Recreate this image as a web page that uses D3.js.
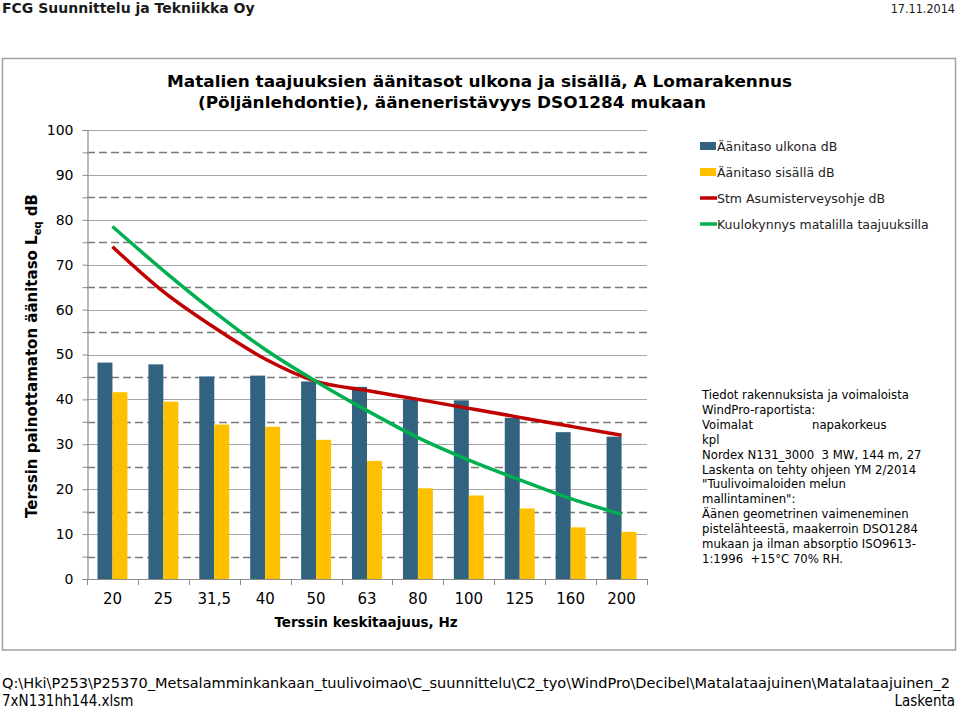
<!DOCTYPE html>
<html>
<head>
<meta charset="utf-8">
<script src="https://cdn.jsdelivr.net/npm/d3@7"></script>
<style>
  html, body { margin: 0; padding: 0; background: #fff; }
  svg { display: block; }
  text { font-family: "DejaVu Sans", Verdana, sans-serif; fill: #000; white-space: pre; }
</style>
</head>
<body>
<svg id="chart" width="959" height="709"></svg>
<script>
// ---------- DATA ----------
const categories = ["20", "25", "31,5", "40", "50", "63", "80", "100", "125", "160", "200"];
const outdoorLevels = [48.2, 47.8, 45.1, 45.3, 44.0, 42.8, 40.0, 39.8, 35.9, 32.7, 31.7];
const indoorLevels  = [41.6, 39.5, 34.4, 33.9, 31.0, 26.3, 20.2, 18.6, 15.7, 11.5, 10.5];
const guidelineLevels = [74, 64, 56, 49, 44, 42, 40, 38, 36, 34, 32];
const hearingThreshold = [78.5, 68.7, 59.5, 51.1, 44.0, 37.5, 31.5, 26.5, 22.1, 17.9, 14.4];
const barSeries = ["Äänitaso ulkona dB", "Äänitaso sisällä dB"];
const lineSeries = ["Stm Asumisterveysohje dB", "Kuulokynnys matalilla taajuuksilla"];
const yTickValues = [0, 10, 20, 30, 40, 50, 60, 70, 80, 90, 100];
const titleLines = ["Matalien taajuuksien äänitasot ulkona ja sisällä, A Lomarakennus",
                    "(Pöljänlehdontie), ääneneristävyys DSO1284 mukaan"];
const noteLines = [
  "Tiedot rakennuksista ja voimaloista",
  "WindPro-raportista:",
  "Voimalat|napakorkeus",
  "kpl",
  "Nordex N131_3000  3 MW, 144 m, 27",
  "Laskenta on tehty ohjeen YM 2/2014",
  "\"Tuulivoimaloiden melun",
  "mallintaminen\":",
  "Äänen geometrinen vaimeneminen",
  "pistelähteestä, maakerroin DSO1284",
  "mukaan ja ilman absorptio ISO9613-",
  "1:1996  +15°C 70% RH."
];
const footerLines = [
  "Q:\\Hki\\P253\\P25370_Metsalamminkankaan_tuulivoimao\\C_suunnittelu\\C2_tyo\\WindPro\\Decibel\\Matalataajuinen\\Matalataajuinen_2",
  "7xN131hh144.xlsm"
];

// ---------- STYLE ----------
const colors = { outdoor: "#31627f", indoor: "#ffc000", guideline: "#c00000", threshold: "#00b050" };
const svg = d3.select("#chart");
const plot = { left: 87, right: 647, top: 130, bottom: 579 };
const condensed = "'DejaVu Sans Condensed', 'DejaVu Sans', sans-serif";

// header
svg.append("text").attr("x", 2).attr("y", 13)
  .style("font-weight", "bold").style("font-size", "14px").style("fill", "#1a1a1a")
  .text("FCG Suunnittelu ja Tekniikka Oy");
svg.append("text").attr("x", 955).attr("y", 13).attr("text-anchor", "end")
  .style("font-family", condensed)
  .style("font-size", "12.5px").style("fill", "#1a1a1a")
  .text("17.11.2014");

// chart box
svg.append("rect").attr("x", 2.5).attr("y", 58.5).attr("width", 953).attr("height", 591.5)
  .attr("fill", "none").attr("stroke", "#a0a0a0").attr("stroke-width", 1.5);

// scales
const x = d3.scaleBand().domain(categories).range([plot.left, plot.right]).paddingInner(0).paddingOuter(0);
const xs = d3.scaleBand().domain(barSeries).range([0, x.bandwidth()]).paddingInner(0).paddingOuter(0.7);
const y = d3.scaleLinear().domain([0, 100]).range([plot.bottom, plot.top]);

// gridlines
const g = svg.append("g");
g.selectAll("line.major").data(yTickValues.filter(v => v > 0)).join("line")
  .attr("x1", plot.left).attr("x2", plot.right)
  .attr("y1", d => Math.round(y(d)) + 0.5).attr("y2", d => Math.round(y(d)) + 0.5)
  .attr("stroke", "#a6a6a6").attr("stroke-width", 1.2);
g.selectAll("line.minor").data(d3.range(5, 100, 10)).join("line")
  .attr("x1", plot.left).attr("x2", plot.right)
  .attr("y1", d => Math.round(y(d)) + 0.5).attr("y2", d => Math.round(y(d)) + 0.5)
  .attr("stroke", "#7a7a7a").attr("stroke-width", 1.4).attr("stroke-dasharray", "8,4");

// bars
const barData = [outdoorLevels, indoorLevels];
const barColors = [colors.outdoor, colors.indoor];
barSeries.forEach((s, si) => {
  svg.append("g").selectAll("rect").data(categories).join("rect")
    .attr("x", (c) => x(c) + xs(s))
    .attr("width", xs.bandwidth())
    .attr("y", (c, i) => y(barData[si][i]))
    .attr("height", (c, i) => y(0) - y(barData[si][i]))
    .attr("fill", barColors[si]);
});

// axes
const yAxis = d3.axisLeft(y).tickValues(yTickValues).tickSize(5).tickPadding(9);
const ya = svg.append("g").attr("transform", `translate(${plot.left + 0.5},0)`).call(yAxis);
ya.select(".domain").attr("stroke", "#8c8c8c").attr("stroke-width", 1.2);
ya.selectAll(".tick line").attr("stroke", "#8c8c8c");
ya.selectAll(".tick text").style("font-size", "14px").style("font-family", "'DejaVu Sans', sans-serif").attr("fill", "#000");
const yMinor = d3.axisLeft(y).tickValues(d3.range(5, 100, 10)).tickSize(5).tickFormat("");
const ym = svg.append("g").attr("transform", `translate(${plot.left + 0.5},0)`).call(yMinor);
ym.select(".domain").remove();
ym.selectAll(".tick line").attr("stroke", "#8c8c8c");

const xAxis = d3.axisBottom(x).tickSize(0).tickPadding(14);
const xa = svg.append("g").attr("transform", `translate(0,${plot.bottom + 0.5})`).call(xAxis);
xa.select(".domain").attr("stroke", "#8c8c8c").attr("stroke-width", 1.2).attr("d", `M${plot.left},0H${plot.right}`);
xa.selectAll(".tick text").style("font-size", "15px").style("font-family", "'DejaVu Sans', sans-serif").attr("fill", "#000");
// boundary ticks
svg.append("g").selectAll("line").data(categories.concat(["end"])).join("line")
  .attr("x1", (c, i) => Math.round(i < categories.length ? x(c) : plot.right) + 0.5)
  .attr("x2", (c, i) => Math.round(i < categories.length ? x(c) : plot.right) + 0.5)
  .attr("y1", plot.bottom).attr("y2", plot.bottom + 6)
  .attr("stroke", "#8c8c8c");

// lines
const lineGen = d3.line()
  .x((d, i) => x(categories[i]) + x.bandwidth() / 2)
  .y(d => y(d))
  .curve(d3.curveMonotoneX);
svg.append("path").datum(guidelineLevels).attr("d", lineGen)
  .attr("fill", "none").attr("stroke", colors.guideline).attr("stroke-width", 3.5);
svg.append("path").datum(hearingThreshold).attr("d", lineGen)
  .attr("fill", "none").attr("stroke", colors.threshold).attr("stroke-width", 3.5);

// title
svg.append("text").attr("x", 167).attr("y", 87)
  .style("font-weight", "bold").style("font-size", "15.5px")
  .attr("textLength", 625).attr("lengthAdjust", "spacingAndGlyphs")
  .text(titleLines[0]);
svg.append("text").attr("x", 198).attr("y", 108)
  .style("font-weight", "bold").style("font-size", "15.5px")
  .attr("textLength", 508).attr("lengthAdjust", "spacingAndGlyphs")
  .text(titleLines[1]);

// axis titles
svg.append("text").attr("x", 366).attr("y", 627).attr("text-anchor", "middle")
  .style("font-weight", "bold").style("font-size", "13.5px")
  .text("Terssin keskitaajuus, Hz");
const yt = svg.append("text").attr("transform", "translate(37,356) rotate(-90)").attr("text-anchor", "middle")
  .style("font-weight", "bold").style("font-size", "15px");
yt.append("tspan").text("Terssin painottamaton äänitaso L");
yt.append("tspan").attr("dy", 4).style("font-size", "10px").text("eq");
yt.append("tspan").attr("dy", -4).text(" dB");

// legend
const legendItems = [
  { name: barSeries[0], color: colors.outdoor, type: "bar" },
  { name: barSeries[1], color: colors.indoor, type: "bar" },
  { name: lineSeries[0], color: colors.guideline, type: "line" },
  { name: lineSeries[1], color: colors.threshold, type: "line" }
];
const lg = svg.append("g").selectAll("g").data(legendItems).join("g")
  .attr("transform", (d, i) => `translate(700,${146 + i * 26})`);
lg.filter(d => d.type === "bar").append("rect")
  .attr("x", 0).attr("y", -4).attr("width", 16).attr("height", 8).attr("fill", d => d.color);
lg.filter(d => d.type === "line").append("line")
  .attr("x1", 0).attr("x2", 17).attr("y1", 0).attr("y2", 0)
  .attr("stroke", d => d.color).attr("stroke-width", 3.5);
lg.append("text").attr("x", 17).attr("y", 5)
  .style("font-size", "12.5px").style("fill", "#222").text(d => d.name);

// note
const nt = svg.append("g");
noteLines.forEach((line, i) => {
  const parts = line.split("|");
  nt.append("text").attr("x", 702).attr("y", 399 + i * 14.9)
    .style("font-size", "11.7px").text(parts[0]);
  if (parts.length > 1) {
    nt.append("text").attr("x", 812).attr("y", 399 + i * 14.9).style("font-size", "11.7px").text(parts[1]);
  }
});

// footer
svg.append("text").attr("x", 2).attr("y", 688)
  .style("font-family", condensed).style("font-size", "14.5px")
  .attr("textLength", 948).attr("lengthAdjust", "spacingAndGlyphs")
  .text(footerLines[0]);
svg.append("text").attr("x", 2).attr("y", 706)
  .style("font-family", condensed).style("font-size", "15px")
  .text(footerLines[1]);
svg.append("text").attr("x", 955).attr("y", 706).attr("text-anchor", "end")
  .style("font-family", condensed).style("font-size", "15px")
  .text("Laskenta");
</script>
</body>
</html>
